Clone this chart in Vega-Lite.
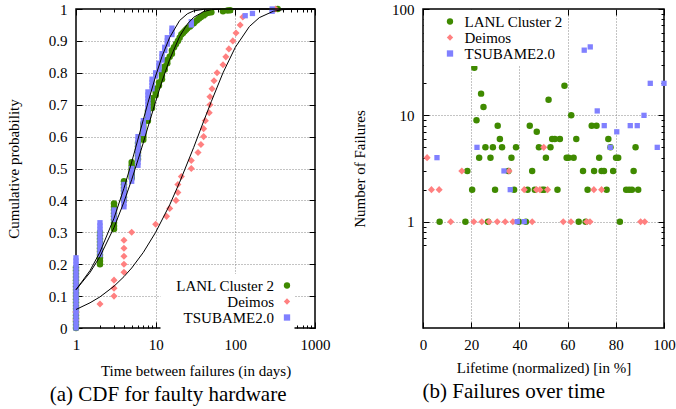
{
  "$schema": "https://vega.github.io/schema/vega-lite/v6.json",
  "padding": {"left": 5, "top": 1, "right": 0, "bottom": 0},
  "bounds": "flush",
  "spacing": 108,
  "resolve": {"scale": {"color": "independent", "shape": "independent"}, "legend": {"color": "independent", "shape": "independent"}},
  "config": {
    "font": "Liberation Serif",
    "view": {"stroke": "black", "strokeWidth": 1.5},
    "axis": {
      "labelFont": "Liberation Serif", "titleFont": "Liberation Serif",
      "labelFontSize": 15, "titleFontSize": 15, "titleFontWeight": "normal",
      "labelColor": "black", "titleColor": "black", "domain": false,
      "tickColor": "black", "tickWidth": 1, "gridColor": "#888", "gridDash": [1, 2], "gridWidth": 1,
      "labelFlush": false, "labelOverlap": false
    },
    "legend": {"labelFont": "Liberation Serif", "labelFontSize": 15, "labelColor": "black"},
    "title": {"font": "Liberation Serif", "fontSize": 21, "fontWeight": "normal", "color": "black"}
  },
  "datasets": {
    "cdfL": [
      {"x":1,"p":0},{"x":1,"p":0.01},{"x":1,"p":0.02},{"x":1,"p":0.03},{"x":1,"p":0.04},{"x":1,"p":0.05},{"x":1,"p":0.06},{"x":1,"p":0.07},{"x":1,"p":0.08},{"x":1,"p":0.09},{"x":1,"p":0.1},{"x":1,"p":0.11},{"x":1,"p":0.12},{"x":1,"p":0.13},{"x":1,"p":0.14},{"x":1,"p":0.15},{"x":1,"p":0.16},{"x":1,"p":0.17},{"x":1,"p":0.18},{"x":1,"p":0.19},
      {"x":2,"p":0.2},{"x":2,"p":0.21},{"x":2,"p":0.22},{"x":2,"p":0.23},{"x":2,"p":0.24},{"x":2,"p":0.25},{"x":2,"p":0.26},{"x":2,"p":0.27},{"x":2,"p":0.28},{"x":2,"p":0.29},{"x":2,"p":0.3},
      {"x":3,"p":0.31},{"x":3,"p":0.32},{"x":3,"p":0.33},{"x":3,"p":0.34},{"x":3,"p":0.35},{"x":3,"p":0.36},{"x":3,"p":0.37},{"x":3,"p":0.38},{"x":3,"p":0.39},
      {"x":4,"p":0.4},{"x":4,"p":0.41},{"x":4,"p":0.42},{"x":4,"p":0.43},{"x":4,"p":0.44},{"x":4,"p":0.45},{"x":4,"p":0.46},
      {"x":5,"p":0.47},{"x":5,"p":0.48},{"x":5,"p":0.49},{"x":5,"p":0.5},{"x":5,"p":0.51},{"x":5,"p":0.52},
      {"x":6,"p":0.53},{"x":6,"p":0.54},{"x":6,"p":0.55},{"x":6,"p":0.56},{"x":6,"p":0.57},{"x":6,"p":0.58},
      {"x":7,"p":0.59},{"x":7,"p":0.6},{"x":7,"p":0.61},{"x":7,"p":0.62},{"x":7,"p":0.63},{"x":7,"p":0.64},
      {"x":8,"p":0.65},{"x":8,"p":0.66},{"x":8,"p":0.67},{"x":8,"p":0.68},
      {"x":9,"p":0.69},{"x":9,"p":0.7},{"x":9,"p":0.71},{"x":9,"p":0.72},
      {"x":10,"p":0.73},{"x":10,"p":0.74},{"x":10,"p":0.75},
      {"x":11,"p":0.76},{"x":11,"p":0.77},
      {"x":12,"p":0.78},{"x":12,"p":0.79},{"x":12,"p":0.8},
      {"x":13,"p":0.81},{"x":13,"p":0.82},
      {"x":14,"p":0.83},{"x":14,"p":0.84},
      {"x":15,"p":0.85},{"x":16,"p":0.86},{"x":16,"p":0.87},{"x":17,"p":0.88},{"x":18,"p":0.89},{"x":19,"p":0.9},{"x":20,"p":0.91},
      {"x":21,"p":0.92},{"x":22,"p":0.925},{"x":23,"p":0.93},{"x":24,"p":0.935},{"x":25,"p":0.94},{"x":27,"p":0.945},{"x":28,"p":0.95},
      {"x":30,"p":0.955},{"x":31,"p":0.96},{"x":33,"p":0.965},{"x":35,"p":0.97},{"x":37,"p":0.975},{"x":40,"p":0.98},{"x":42,"p":0.984},
      {"x":46,"p":0.988},{"x":50,"p":0.99},{"x":70,"p":0.993},{"x":80,"p":0.995},{"x":86,"p":0.996},{"x":340,"p":1}
    ],
    "cdfD": [
      {"x":1,"p":0.025},{"x":1,"p":0.05},{"x":2,"p":0.075},{"x":3,"p":0.1},{"x":3,"p":0.125},{"x":3,"p":0.15},
      {"x":4,"p":0.175},{"x":4,"p":0.2},{"x":4,"p":0.225},{"x":4,"p":0.25},{"x":4,"p":0.275},{"x":5,"p":0.3},
      {"x":10,"p":0.325},{"x":13.7,"p":0.35},{"x":15,"p":0.375},{"x":18,"p":0.4},{"x":19,"p":0.425},{"x":19,"p":0.45},
      {"x":21,"p":0.475},{"x":28,"p":0.5},{"x":28,"p":0.525},{"x":34,"p":0.55},{"x":37,"p":0.575},{"x":40,"p":0.6},
      {"x":40,"p":0.625},{"x":42,"p":0.65},{"x":47,"p":0.675},{"x":48,"p":0.7},{"x":48,"p":0.725},{"x":51,"p":0.75},
      {"x":54,"p":0.775},{"x":59,"p":0.8},{"x":70,"p":0.825},{"x":76,"p":0.85},{"x":83,"p":0.875},{"x":93,"p":0.9},
      {"x":102,"p":0.925},{"x":115,"p":0.95},{"x":124,"p":0.975},{"x":320,"p":1}
    ],
    "cdfT": [
      {"x":1,"p":0},{"x":1,"p":0.01},{"x":1,"p":0.02},{"x":1,"p":0.03},{"x":1,"p":0.04},{"x":1,"p":0.05},{"x":1,"p":0.06},{"x":1,"p":0.07},{"x":1,"p":0.08},{"x":1,"p":0.09},{"x":1,"p":0.1},{"x":1,"p":0.11},{"x":1,"p":0.12},{"x":1,"p":0.13},{"x":1,"p":0.14},{"x":1,"p":0.15},{"x":1,"p":0.16},{"x":1,"p":0.17},{"x":1,"p":0.18},{"x":1,"p":0.19},{"x":1,"p":0.2},{"x":1,"p":0.21},{"x":1,"p":0.22},
      {"x":2,"p":0.23},{"x":2,"p":0.24},{"x":2,"p":0.25},{"x":2,"p":0.26},{"x":2,"p":0.27},{"x":2,"p":0.28},{"x":2,"p":0.29},{"x":2,"p":0.3},{"x":2,"p":0.31},{"x":2,"p":0.32},{"x":2,"p":0.33},
      {"x":3,"p":0.34},{"x":3,"p":0.35},{"x":3,"p":0.36},{"x":3,"p":0.37},
      {"x":4,"p":0.38},{"x":4,"p":0.39},{"x":4,"p":0.4},{"x":4,"p":0.41},{"x":4,"p":0.42},{"x":4,"p":0.43},{"x":4,"p":0.44},{"x":4,"p":0.45},
      {"x":5,"p":0.46},{"x":5,"p":0.47},{"x":5,"p":0.48},{"x":5,"p":0.49},{"x":5,"p":0.5},
      {"x":6,"p":0.51},{"x":6,"p":0.52},{"x":6,"p":0.53},{"x":6,"p":0.54},{"x":6,"p":0.55},{"x":6,"p":0.56},{"x":6,"p":0.57},{"x":6,"p":0.58},{"x":6,"p":0.59},{"x":6,"p":0.6},
      {"x":7,"p":0.61},{"x":7,"p":0.62},{"x":7,"p":0.63},{"x":7,"p":0.64},{"x":7,"p":0.65},
      {"x":8,"p":0.66},{"x":8,"p":0.67},{"x":8,"p":0.68},{"x":8,"p":0.69},{"x":8,"p":0.7},{"x":8,"p":0.71},{"x":8,"p":0.72},{"x":8,"p":0.73},{"x":8,"p":0.74},
      {"x":9,"p":0.75},{"x":9,"p":0.76},{"x":9,"p":0.77},{"x":9,"p":0.78},
      {"x":10,"p":0.79},{"x":10,"p":0.8},
      {"x":11,"p":0.81},{"x":11,"p":0.82},{"x":11,"p":0.83},
      {"x":12,"p":0.84},{"x":12,"p":0.85},{"x":12,"p":0.86},
      {"x":13,"p":0.87},{"x":13,"p":0.88},
      {"x":14,"p":0.89},{"x":14,"p":0.9},{"x":14,"p":0.91},
      {"x":16,"p":0.92},{"x":16,"p":0.93},{"x":16,"p":0.94},
      {"x":28,"p":0.95},{"x":28,"p":0.96},
      {"x":133,"p":0.979},{"x":164,"p":0.986},{"x":290,"p":0.993},{"x":290,"p":1}
    ],
    "fit": [
      {"c":"T","x":1,"p":0.12},{"c":"T","x":1.5,"p":0.18},{"c":"T","x":2,"p":0.238},{"c":"T","x":3,"p":0.344},{"c":"T","x":4,"p":0.438},{"c":"T","x":5,"p":0.52},{"c":"T","x":6,"p":0.592},{"c":"T","x":7,"p":0.653},{"c":"T","x":8,"p":0.706},{"c":"T","x":10,"p":0.79},{"c":"T","x":12,"p":0.851},{"c":"T","x":15,"p":0.911},{"c":"T","x":20,"p":0.964},{"c":"T","x":25,"p":0.985},{"c":"T","x":30,"p":0.994},{"c":"T","x":40,"p":0.999},{"c":"T","x":50,"p":1},{"c":"T","x":1000,"p":1},
      {"c":"L","x":1,"p":0.12},{"c":"L","x":1.5,"p":0.174},{"c":"L","x":2,"p":0.224},{"c":"L","x":3,"p":0.315},{"c":"L","x":4,"p":0.395},{"c":"L","x":5,"p":0.465},{"c":"L","x":6,"p":0.527},{"c":"L","x":7,"p":0.581},{"c":"L","x":8,"p":0.63},{"c":"L","x":10,"p":0.71},{"c":"L","x":12,"p":0.773},{"c":"L","x":15,"p":0.842},{"c":"L","x":20,"p":0.914},{"c":"L","x":25,"p":0.953},{"c":"L","x":30,"p":0.974},{"c":"L","x":40,"p":0.992},{"c":"L","x":50,"p":0.998},{"c":"L","x":70,"p":1},{"c":"L","x":1000,"p":1},
      {"c":"D","x":1,"p":0.058},{"c":"D","x":1.5,"p":0.079},{"c":"D","x":2,"p":0.0975},{"c":"D","x":3,"p":0.131},{"c":"D","x":4,"p":0.161},{"c":"D","x":5,"p":0.188},{"c":"D","x":7,"p":0.237},{"c":"D","x":10,"p":0.3},{"c":"D","x":15,"p":0.386},{"c":"D","x":20,"p":0.457},{"c":"D","x":30,"p":0.566},{"c":"D","x":40,"p":0.648},{"c":"D","x":50,"p":0.71},{"c":"D","x":70,"p":0.8},{"c":"D","x":100,"p":0.88},{"c":"D","x":150,"p":0.945},{"c":"D","x":200,"p":0.973},{"c":"D","x":300,"p":0.993},{"c":"D","x":400,"p":0.998},{"c":"D","x":500,"p":0.9994},{"c":"D","x":700,"p":1},{"c":"D","x":1000,"p":1}
    ],
    "lifeL": [
      {"t":6.9,"n":1},{"t":17.6,"n":1},{"t":27,"n":1},{"t":39.8,"n":1},{"t":42.7,"n":1},{"t":64.6,"n":1},{"t":67.5,"n":1},{"t":81.7,"n":1},
      {"t":20.4,"n":2},{"t":29.9,"n":2},{"t":37.8,"n":2},{"t":43.4,"n":2},{"t":46.4,"n":2},{"t":49.5,"n":2},{"t":50.3,"n":2},{"t":55.8,"n":2},{"t":68.3,"n":2},{"t":76.2,"n":2},{"t":84.3,"n":2},{"t":85.5,"n":2},{"t":86.7,"n":2},{"t":89.3,"n":2},
      {"t":18.4,"n":3},{"t":35.4,"n":3},{"t":45.3,"n":3},{"t":66.4,"n":3},{"t":71,"n":3},{"t":74.1,"n":3},{"t":75.1,"n":3},{"t":78.9,"n":3},{"t":87.4,"n":3},
      {"t":23.3,"n":4},{"t":28,"n":4},{"t":36.7,"n":4},{"t":51,"n":4},{"t":59.6,"n":4},{"t":60.4,"n":4},{"t":62.5,"n":4},{"t":73.1,"n":4},{"t":80.1,"n":4},{"t":81,"n":4},
      {"t":25.9,"n":5},{"t":29,"n":5},{"t":32.8,"n":5},{"t":38.6,"n":5},{"t":48.1,"n":5},{"t":52.9,"n":5},{"t":77.8,"n":5},{"t":88.2,"n":5},
      {"t":31.9,"n":6},{"t":53.6,"n":6},{"t":54.7,"n":6},{"t":56.8,"n":6},{"t":63.6,"n":6},{"t":76.9,"n":6},
      {"t":47.2,"n":7},
      {"t":31,"n":8},{"t":44.3,"n":8},{"t":70,"n":8},{"t":72,"n":8},
      {"t":22.2,"n":9},{"t":61.5,"n":10},{"t":25.1,"n":12},{"t":52.1,"n":14},{"t":24.1,"n":16},{"t":58.7,"n":19},{"t":21.3,"n":28}
    ],
    "lifeD": [
      {"t":11.5,"n":1},{"t":21.1,"n":1},{"t":24.4,"n":1},{"t":27.4,"n":1},{"t":30.8,"n":1},{"t":34.1,"n":1},{"t":37.3,"n":1},{"t":45.3,"n":1},{"t":58.2,"n":1},{"t":61.4,"n":1},{"t":67.9,"n":1},{"t":69.3,"n":1},{"t":90.3,"n":1},{"t":92,"n":1},
      {"t":3.5,"n":2},{"t":6.7,"n":2},{"t":42,"n":2},{"t":47.1,"n":2},{"t":48.5,"n":2},{"t":51.7,"n":2},{"t":70.9,"n":2},{"t":74.1,"n":2},
      {"t":16.1,"n":3},{"t":35.7,"n":3},{"t":1.7,"n":4},{"t":50.1,"n":5}
    ],
    "lifeT": [
      {"t":39.1,"n":1},{"t":42,"n":1},{"t":36.2,"n":2},{"t":33.6,"n":3},{"t":5.8,"n":4},
      {"t":22.4,"n":5},{"t":77.7,"n":5},{"t":97.2,"n":5},{"t":80.4,"n":7},
      {"t":75.2,"n":8},{"t":86,"n":8},{"t":88.9,"n":8},{"t":91.7,"n":10},{"t":72.3,"n":11},
      {"t":94.3,"n":20},{"t":100,"n":20},{"t":2.8,"n":31},{"t":66.9,"n":41},{"t":69.4,"n":44}
    ]
  },
  "hconcat": [
    {
      "width": 239,
      "height": 319,
      "title": {"text": "(a) CDF for faulty hardware", "orient": "bottom", "anchor": "middle", "frame": "bounds", "offset": 6},
      "resolve": {"axis": {"x": "independent", "y": "independent"}},
      "layer": [
        {
          "data": {"name": "cdfL"},
          "mark": {"type": "point", "filled": true, "opacity": 1, "size": 42},
          "encoding": {
            "x": {"field": "x", "type": "quantitative", "scale": {"type": "log", "domain": [1, 1000]},
              "axis": {"orient": "bottom", "title": "Time between failures (in days)", "titlePadding": 8,
                "labelFont": "Liberation Serif", "titleFont": "Liberation Serif", "labelFontSize": 15, "titleFontSize": 15, "titleFontWeight": "normal",
                "labelColor": "black", "titleColor": "black", "domain": false, "tickColor": "black",
                "gridColor": "#888", "gridDash": [1, 2], "labelFlush": false, "labelOverlap": false,
                "values": [1,2,3,4,5,6,7,8,9,10,20,30,40,50,60,70,80,90,100,200,300,400,500,600,700,800,900,1000],
                "labelExpr": "indexof([1,10,100,1000], datum.value) >= 0 ? datum.value + '' : ''",
                "tickSize": {"condition": {"test": "indexof([1,10,100,1000], datum.value) >= 0", "value": -6}, "value": -3},
                "labelPadding": 15,
                "grid": true,
                "gridOpacity": {"condition": {"test": "datum.value == 10 || datum.value == 100", "value": 1}, "value": 0}}},
            "y": {"field": "p", "type": "quantitative", "scale": {"domain": [0, 1]},
              "axis": {"orient": "left", "title": "Cumulative probability", "titlePadding": 27,
                "labelFont": "Liberation Serif", "titleFont": "Liberation Serif", "labelFontSize": 15, "titleFontSize": 15, "titleFontWeight": "normal",
                "labelColor": "black", "titleColor": "black", "domain": false, "tickColor": "black",
                "gridColor": "#888", "gridDash": [1, 2], "labelFlush": false, "labelOverlap": false,
                "values": [0,0.1,0.2,0.3,0.4,0.5,0.6,0.7,0.8,0.9,1], "format": "~g",
                "tickSize": -6, "labelPadding": 15, "grid": true,
                "gridOpacity": {"condition": {"test": "datum.value > 0.05 && datum.value < 0.95", "value": 1}, "value": 0}}},
            "color": {"datum": "LANL Cluster 2", "type": "nominal",
              "scale": {"domain": ["LANL Cluster 2", "Deimos", "TSUBAME2.0"], "range": ["#3f8a00", "#ff8080", "#8080ff"]},
              "legend": {"title": null, "orient": "none", "legendX": 84.5, "legendY": 265, "padding": 4, "labelAlign": "right", "symbolOffset": 115, "labelOffset": -20.5, "rowPadding": 0, "fillColor": "white", "symbolSize": 40, "symbolStrokeWidth": 0, "labelFont": "Liberation Serif", "labelFontSize": 15}},
            "shape": {"datum": "LANL Cluster 2", "type": "nominal",
              "scale": {"domain": ["LANL Cluster 2", "Deimos", "TSUBAME2.0"], "range": ["circle", "diamond", "square"]},
              "legend": {"title": null, "orient": "none", "legendX": 84.5, "legendY": 265, "padding": 4, "labelAlign": "right", "symbolOffset": 115, "labelOffset": -20.5, "rowPadding": 0, "fillColor": "white", "symbolSize": 40, "symbolStrokeWidth": 0, "labelFont": "Liberation Serif", "labelFontSize": 15}}
          }
        },
        {
          "data": {"name": "cdfD"},
          "mark": {"type": "point", "filled": true, "opacity": 1, "size": 50},
          "encoding": {
            "x": {"field": "x", "type": "quantitative", "axis": null},
            "y": {"field": "p", "type": "quantitative", "axis": null},
            "color": {"datum": "Deimos", "type": "nominal"},
            "shape": {"datum": "Deimos", "type": "nominal"}
          }
        },
        {
          "data": {"name": "cdfT"},
          "mark": {"type": "point", "filled": true, "opacity": 1, "size": 28},
          "encoding": {
            "x": {"field": "x", "type": "quantitative", "axis": null},
            "y": {"field": "p", "type": "quantitative", "axis": null},
            "color": {"datum": "TSUBAME2.0", "type": "nominal"},
            "shape": {"datum": "TSUBAME2.0", "type": "nominal"}
          }
        },
        {
          "data": {"name": "fit"},
          "mark": {"type": "line", "color": "black", "strokeWidth": 1},
          "encoding": {
            "x": {"field": "x", "type": "quantitative",
              "axis": {"orient": "top", "title": null, "labels": false, "domain": false, "tickColor": "black",
                "values": [1,2,3,4,5,6,7,8,9,10,20,30,40,50,60,70,80,90,100,200,300,400,500,600,700,800,900,1000],
                "tickSize": {"condition": {"test": "indexof([1,10,100,1000], datum.value) >= 0", "value": -6}, "value": -3}}},
            "y": {"field": "p", "type": "quantitative",
              "axis": {"orient": "right", "title": null, "labels": false, "domain": false, "tickColor": "black",
                "values": [0,0.1,0.2,0.3,0.4,0.5,0.6,0.7,0.8,0.9,1], "tickSize": -6}},
            "detail": {"field": "c", "type": "nominal"}
          }
        }
      ]
    },
    {
      "width": 241,
      "height": 319,
      "title": {"text": "(b) Failures over time", "orient": "bottom", "anchor": "middle", "frame": "bounds", "offset": 6},
      "resolve": {"axis": {"x": "independent", "y": "independent"}},
      "layer": [
        {
          "data": {"name": "lifeL"},
          "mark": {"type": "point", "filled": true, "opacity": 1, "size": 42},
          "encoding": {
            "x": {"field": "t", "type": "quantitative", "scale": {"domain": [0, 100]},
              "axis": {"orient": "bottom", "title": "Lifetime (normalized) [in %]", "titlePadding": 8,
                "labelFont": "Liberation Serif", "titleFont": "Liberation Serif", "labelFontSize": 15, "titleFontSize": 15, "titleFontWeight": "normal",
                "labelColor": "black", "titleColor": "black", "domain": false, "tickColor": "black",
                "gridColor": "#888", "gridDash": [1, 2], "labelFlush": false, "labelOverlap": false,
                "values": [0,20,40,60,80,100], "format": "d", "tickSize": -6, "labelPadding": 15, "grid": true,
                "gridOpacity": {"condition": {"test": "datum.value > 0 && datum.value < 100", "value": 1}, "value": 0}}},
            "y": {"field": "n", "type": "quantitative", "scale": {"type": "log", "domain": [0.5, 100]},
              "axis": {"orient": "left", "title": "Number of Failures", "titlePadding": 24,
                "labelFont": "Liberation Serif", "titleFont": "Liberation Serif", "labelFontSize": 15, "titleFontSize": 15, "titleFontWeight": "normal",
                "labelColor": "black", "titleColor": "black", "domain": false, "tickColor": "black",
                "gridColor": "#888", "gridDash": [1, 2], "labelFlush": false, "labelOverlap": false,
                "values": [0.6,0.7,0.8,0.9,1,2,3,4,5,6,7,8,9,10,20,30,40,50,60,70,80,90,100],
                "labelExpr": "indexof([1,10,100], datum.value) >= 0 ? datum.value + '' : ''",
                "tickSize": {"condition": {"test": "indexof([1,10,100], datum.value) >= 0", "value": -6}, "value": -3},
                "labelPadding": 15, "grid": true,
                "gridOpacity": {"condition": {"test": "datum.value == 1 || datum.value == 10", "value": 1}, "value": 0}}},
            "color": {"datum": "LANL Cluster 2", "type": "nominal",
              "scale": {"domain": ["LANL Cluster 2", "Deimos", "TSUBAME2.0"], "range": ["#3f8a00", "#ff8080", "#8080ff"]},
              "legend": {"title": null, "orient": "none", "legendX": 1, "legendY": 1, "padding": 4, "symbolOffset": 14.5, "labelOffset": 7, "rowPadding": 0, "fillColor": "white", "symbolSize": 40, "symbolStrokeWidth": 0, "labelFont": "Liberation Serif", "labelFontSize": 15}},
            "shape": {"datum": "LANL Cluster 2", "type": "nominal",
              "scale": {"domain": ["LANL Cluster 2", "Deimos", "TSUBAME2.0"], "range": ["circle", "diamond", "square"]},
              "legend": {"title": null, "orient": "none", "legendX": 1, "legendY": 1, "padding": 4, "symbolOffset": 14.5, "labelOffset": 7, "rowPadding": 0, "fillColor": "white", "symbolSize": 40, "symbolStrokeWidth": 0, "labelFont": "Liberation Serif", "labelFontSize": 15}}
          }
        },
        {
          "data": {"name": "lifeD"},
          "mark": {"type": "point", "filled": true, "opacity": 1, "size": 50},
          "encoding": {
            "x": {"field": "t", "type": "quantitative", "axis": null},
            "y": {"field": "n", "type": "quantitative", "axis": null},
            "color": {"datum": "Deimos", "type": "nominal"},
            "shape": {"datum": "Deimos", "type": "nominal"}
          }
        },
        {
          "data": {"name": "lifeT"},
          "mark": {"type": "point", "filled": true, "opacity": 1, "size": 28},
          "encoding": {
            "x": {"field": "t", "type": "quantitative", "axis": null},
            "y": {"field": "n", "type": "quantitative", "axis": null},
            "color": {"datum": "TSUBAME2.0", "type": "nominal"},
            "shape": {"datum": "TSUBAME2.0", "type": "nominal"}
          }
        },
        {
          "data": {"name": "lifeT"},
          "mark": {"type": "point", "opacity": 0},
          "encoding": {
            "x": {"field": "t", "type": "quantitative",
              "axis": {"orient": "top", "title": null, "labels": false, "domain": false, "tickColor": "black", "values": [0,20,40,60,80,100], "tickSize": -6}},
            "y": {"field": "n", "type": "quantitative",
              "axis": {"orient": "right", "title": null, "labels": false, "domain": false, "tickColor": "black",
                "values": [0.6,0.7,0.8,0.9,1,2,3,4,5,6,7,8,9,10,20,30,40,50,60,70,80,90,100],
                "tickSize": {"condition": {"test": "indexof([1,10,100], datum.value) >= 0", "value": -6}, "value": -3}}}
          }
        }
      ]
    }
  ]
}
